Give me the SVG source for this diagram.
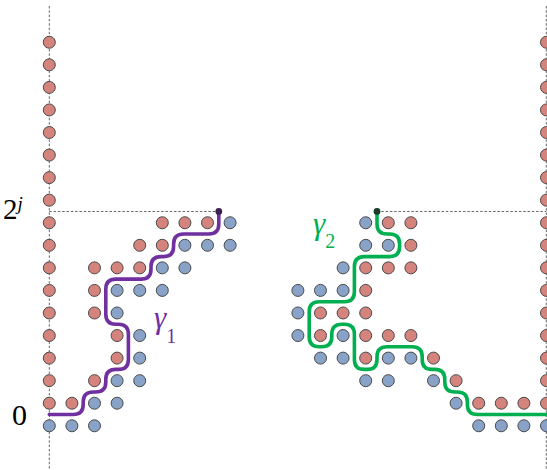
<svg xmlns="http://www.w3.org/2000/svg" width="547" height="470" viewBox="0 0 547 470">
<style>
.bg{fill:#ffffff}
.dash{stroke:#666666;stroke-width:1;stroke-dasharray:2.5,1.8;fill:none}
.r{fill:#d4847c;stroke:#4a4a4a;stroke-width:1}
.b{fill:#88a2c8;stroke:#4a4a4a;stroke-width:1}
.p1{fill:none;stroke:#7030a0;stroke-width:3.6;stroke-linecap:round;stroke-linejoin:round}
.p2{fill:none;stroke:#00b050;stroke-width:3.6;stroke-linecap:round;stroke-linejoin:round}
text{font-family:"Liberation Serif","DejaVu Serif","Times New Roman",serif}
</style>
<rect class="bg" x="0" y="0" width="547" height="470"/>
<g id="guides">
<line class="dash" x1="49.3" y1="6" x2="49.3" y2="470"/>
<line class="dash" x1="546.3" y1="6" x2="546.3" y2="470"/>
<line class="dash" x1="49.3" y1="211.46" x2="218.8" y2="211.46"/>
<line class="dash" x1="377" y1="211.46" x2="546.3" y2="211.46"/>
</g>
<g id="left-wall">
<circle class="r" cx="49.3" cy="42.26" r="6"/>
<circle class="r" cx="49.3" cy="64.82" r="6"/>
<circle class="r" cx="49.3" cy="87.38" r="6"/>
<circle class="r" cx="49.3" cy="109.94" r="6"/>
<circle class="r" cx="49.3" cy="132.5" r="6"/>
<circle class="r" cx="49.3" cy="155.06" r="6"/>
<circle class="r" cx="49.3" cy="177.62" r="6"/>
<circle class="r" cx="49.3" cy="200.18" r="6"/>
<circle class="r" cx="49.3" cy="222.74" r="6"/>
<circle class="r" cx="49.3" cy="245.3" r="6"/>
<circle class="r" cx="49.3" cy="267.86" r="6"/>
<circle class="r" cx="49.3" cy="290.42" r="6"/>
<circle class="r" cx="49.3" cy="312.98" r="6"/>
<circle class="r" cx="49.3" cy="335.54" r="6"/>
<circle class="r" cx="49.3" cy="358.1" r="6"/>
<circle class="r" cx="49.3" cy="380.66" r="6"/>
<circle class="r" cx="49.3" cy="403.22" r="6"/>
<circle class="b" cx="49.3" cy="425.78" r="6"/>
</g>
<g id="right-wall">
<circle class="r" cx="546.5" cy="42.26" r="6"/>
<circle class="r" cx="546.5" cy="64.82" r="6"/>
<circle class="r" cx="546.5" cy="87.38" r="6"/>
<circle class="r" cx="546.5" cy="109.94" r="6"/>
<circle class="r" cx="546.5" cy="132.5" r="6"/>
<circle class="r" cx="546.5" cy="155.06" r="6"/>
<circle class="r" cx="546.5" cy="177.62" r="6"/>
<circle class="r" cx="546.5" cy="200.18" r="6"/>
<circle class="r" cx="546.5" cy="222.74" r="6"/>
<circle class="r" cx="546.5" cy="245.3" r="6"/>
<circle class="r" cx="546.5" cy="267.86" r="6"/>
<circle class="r" cx="546.5" cy="290.42" r="6"/>
<circle class="r" cx="546.5" cy="312.98" r="6"/>
<circle class="r" cx="546.5" cy="335.54" r="6"/>
<circle class="r" cx="546.5" cy="358.1" r="6"/>
<circle class="r" cx="546.5" cy="380.66" r="6"/>
<circle class="r" cx="546.5" cy="403.22" r="6"/>
<circle class="b" cx="546.5" cy="425.78" r="6"/>
</g>
<g id="left-cluster">
<circle class="r" cx="162.3" cy="222.74" r="6"/>
<circle class="r" cx="184.9" cy="222.74" r="6"/>
<circle class="r" cx="207.5" cy="222.74" r="6"/>
<circle class="b" cx="230.1" cy="222.74" r="6"/>
<circle class="r" cx="139.7" cy="245.3" r="6"/>
<circle class="r" cx="162.3" cy="245.3" r="6"/>
<circle class="b" cx="184.9" cy="245.3" r="6"/>
<circle class="b" cx="207.5" cy="245.3" r="6"/>
<circle class="b" cx="230.1" cy="245.3" r="6"/>
<circle class="r" cx="94.5" cy="267.86" r="6"/>
<circle class="r" cx="117.1" cy="267.86" r="6"/>
<circle class="r" cx="139.7" cy="267.86" r="6"/>
<circle class="b" cx="162.3" cy="267.86" r="6"/>
<circle class="b" cx="184.9" cy="267.86" r="6"/>
<circle class="r" cx="94.5" cy="290.42" r="6"/>
<circle class="b" cx="117.1" cy="290.42" r="6"/>
<circle class="b" cx="139.7" cy="290.42" r="6"/>
<circle class="b" cx="162.3" cy="290.42" r="6"/>
<circle class="r" cx="94.5" cy="312.98" r="6"/>
<circle class="b" cx="117.1" cy="312.98" r="6"/>
<circle class="r" cx="117.1" cy="335.54" r="6"/>
<circle class="b" cx="139.7" cy="335.54" r="6"/>
<circle class="r" cx="117.1" cy="358.1" r="6"/>
<circle class="b" cx="139.7" cy="358.1" r="6"/>
<circle class="r" cx="94.5" cy="380.66" r="6"/>
<circle class="b" cx="117.1" cy="380.66" r="6"/>
<circle class="b" cx="139.7" cy="380.66" r="6"/>
<circle class="r" cx="71.9" cy="403.22" r="6"/>
<circle class="b" cx="94.5" cy="403.22" r="6"/>
<circle class="b" cx="117.1" cy="403.22" r="6"/>
<circle class="b" cx="71.9" cy="425.78" r="6"/>
<circle class="b" cx="94.5" cy="425.78" r="6"/>
</g>
<g id="right-cluster">
<circle class="b" cx="365.7" cy="222.74" r="6"/>
<circle class="r" cx="388.3" cy="222.74" r="6"/>
<circle class="r" cx="410.9" cy="222.74" r="6"/>
<circle class="b" cx="365.7" cy="245.3" r="6"/>
<circle class="b" cx="388.3" cy="245.3" r="6"/>
<circle class="r" cx="410.9" cy="245.3" r="6"/>
<circle class="b" cx="343.1" cy="267.86" r="6"/>
<circle class="r" cx="365.7" cy="267.86" r="6"/>
<circle class="r" cx="388.3" cy="267.86" r="6"/>
<circle class="r" cx="410.9" cy="267.86" r="6"/>
<circle class="b" cx="297.9" cy="290.42" r="6"/>
<circle class="b" cx="320.5" cy="290.42" r="6"/>
<circle class="b" cx="343.1" cy="290.42" r="6"/>
<circle class="r" cx="365.7" cy="290.42" r="6"/>
<circle class="b" cx="297.9" cy="312.98" r="6"/>
<circle class="r" cx="320.5" cy="312.98" r="6"/>
<circle class="r" cx="343.1" cy="312.98" r="6"/>
<circle class="r" cx="365.7" cy="312.98" r="6"/>
<circle class="b" cx="297.9" cy="335.54" r="6"/>
<circle class="r" cx="320.5" cy="335.54" r="6"/>
<circle class="b" cx="343.1" cy="335.54" r="6"/>
<circle class="r" cx="365.7" cy="335.54" r="6"/>
<circle class="r" cx="388.3" cy="335.54" r="6"/>
<circle class="r" cx="410.9" cy="335.54" r="6"/>
<circle class="b" cx="320.5" cy="358.1" r="6"/>
<circle class="b" cx="343.1" cy="358.1" r="6"/>
<circle class="r" cx="365.7" cy="358.1" r="6"/>
<circle class="b" cx="388.3" cy="358.1" r="6"/>
<circle class="b" cx="410.9" cy="358.1" r="6"/>
<circle class="r" cx="433.5" cy="358.1" r="6"/>
<circle class="b" cx="365.7" cy="380.66" r="6"/>
<circle class="b" cx="388.3" cy="380.66" r="6"/>
<circle class="b" cx="433.5" cy="380.66" r="6"/>
<circle class="r" cx="456.1" cy="380.66" r="6"/>
<circle class="b" cx="456.1" cy="403.22" r="6"/>
<circle class="r" cx="478.7" cy="403.22" r="6"/>
<circle class="r" cx="501.3" cy="403.22" r="6"/>
<circle class="r" cx="523.9" cy="403.22" r="6"/>
<circle class="b" cx="478.7" cy="425.78" r="6"/>
<circle class="b" cx="501.3" cy="425.78" r="6"/>
<circle class="b" cx="523.9" cy="425.78" r="6"/>
</g>
<g id="connectors">
<path id="gamma1" class="p1" d="M 49.3 414.5 L 73.2 414.5 Q 83.2 414.5 83.2 404.5 L 83.2 401.94 Q 83.2 391.94 93.2 391.94 L 95.8 391.94 Q 105.8 391.94 105.8 381.94 L 105.8 379.38 Q 105.8 369.38 115.8 369.38 L 118.4 369.38 Q 128.4 369.38 128.4 359.38 L 128.4 334.26 Q 128.4 324.26 118.4 324.26 L 115.8 324.26 Q 105.8 324.26 105.8 314.26 L 105.8 289.14 Q 105.8 279.14 115.8 279.14 L 141 279.14 Q 151 279.14 151 269.14 L 151 266.58 Q 151 256.58 161 256.58 L 163.6 256.58 Q 173.6 256.58 173.6 246.58 L 173.6 244.02 Q 173.6 234.02 183.6 234.02 L 208.8 234.02 Q 218.8 234.02 218.8 224.02 L 218.8 211.46"/>
<path id="gamma2" class="p2" d="M 377 211.46 L 377 224.02 Q 377 234.02 387 234.02 L 389.6 234.02 Q 399.6 234.02 399.6 244.02 L 399.6 246.58 Q 399.6 256.58 389.6 256.58 L 364.4 256.58 Q 354.4 256.58 354.4 266.58 L 354.4 291.7 Q 354.4 301.7 344.4 301.7 L 319.2 301.7 Q 309.2 301.7 309.2 311.7 L 309.2 336.82 Q 309.2 346.82 319.2 346.82 L 321.8 346.82 Q 331.8 346.82 331.8 336.82 L 331.8 334.26 Q 331.8 324.26 341.8 324.26 L 344.4 324.26 Q 354.4 324.26 354.4 334.26 L 354.4 359.38 Q 354.4 369.38 364.4 369.38 L 367 369.38 Q 377 369.38 377 359.38 L 377 356.82 Q 377 346.82 387 346.82 L 412.2 346.82 Q 422.2 346.82 422.2 356.82 L 422.2 359.38 Q 422.2 369.38 432.2 369.38 L 434.8 369.38 Q 444.8 369.38 444.8 379.38 L 444.8 381.94 Q 444.8 391.94 454.8 391.94 L 457.4 391.94 Q 467.4 391.94 467.4 401.94 L 467.4 404.5 Q 467.4 414.5 477.4 414.5 L 550 414.5"/>
<circle cx="218.8" cy="211.46" r="3.4" fill="#3b2350"/>
<circle cx="377" cy="211.46" r="3.4" fill="#1e3a2a"/>
</g>
<g id="labels">
<text x="3" y="219" font-size="29" fill="#000000">2<tspan font-style="italic" font-size="19" dy="-9">j</tspan></text>
<text x="12" y="425" font-size="30" fill="#000000">0</text>
<text x="154" y="328" font-size="31" fill="#7030a0"><tspan font-style="italic">γ</tspan><tspan font-size="20" dy="15">1</tspan></text>
<text x="313" y="234" font-size="31" fill="#00b050"><tspan font-style="italic">γ</tspan><tspan font-size="20" dy="14">2</tspan></text>
</g>
</svg>
